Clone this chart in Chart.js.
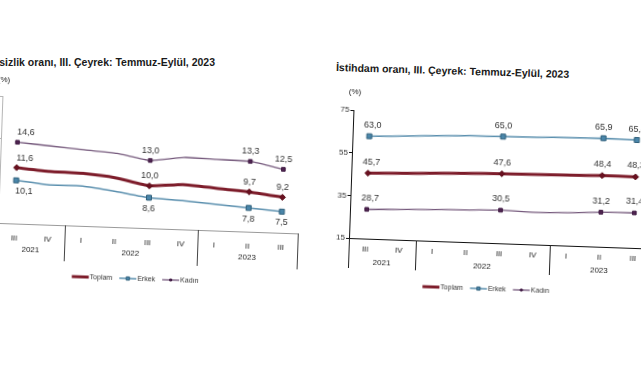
<!DOCTYPE html>
<html>
<head>
<meta charset="utf-8">
<script src="https://cdn.jsdelivr.net/npm/chart.js@4/dist/chart.umd.min.js"></script>
<style>
body { margin: 0; background: #fff; }
#page { position: relative; width: 641px; height: 380px; overflow: hidden; background: #fff; font-family: "Liberation Sans", Arial, sans-serif; }
.title { position: absolute; white-space: nowrap; font-size: 10.5px; font-weight: bold; color: #1a1a1a; }
canvas { position: absolute; }
</style>
</head>
<body>
<div id="page">
  <div class="title" id="t1" style="right:426px; top:56px;">İşsizlik oranı, III. Çeyrek: Temmuz-Eylül, 2023</div>
  <div class="title" id="t2" style="left:336px; top:61px; transform:rotate(1.7deg); transform-origin:0 50%;">İstihdam oranı, III. Çeyrek: Temmuz-Eylül, 2023</div>
  <canvas id="issizlik" width="360" height="230" style="left:-40px; top:70px; transform:rotate(2deg); transform-origin:40px 153px;"></canvas>
  <canvas id="istihdam" width="370" height="230" style="left:300px; top:80px; transform:rotate(2deg); transform-origin:49px 158px;"></canvas>
</div>
<script>
// quarters shown on the x axis, grouped by year
const quarters = ['III', 'IV', 'I', 'II', 'III', 'IV', 'I', 'II', 'III'];
const yearLabels = ['2021', '2022', '2023'];
const yearSpans = [2, 4, 3];
// quarters that carry a marker and a value label
const markedIdx = [0, 4, 7, 8];

// unemployment rate (%)
const issizToplam = [11.6, 11.3, 11.2, 10.8, 10.0, 10.3, 10.0, 9.7, 9.2];
const issizErkek = [10.1, 9.7, 9.7, 9.2, 8.6, 8.4, 8.1, 7.8, 7.5];
const issizKadin = [14.6, 14.3, 14.0, 13.7, 13.0, 13.5, 13.4, 13.3, 12.5];

// employment rate (%)
const istihdamToplam = [45.7, 46.2, 46.7, 47.2, 47.6, 47.8, 48.0, 48.4, 48.3];
const istihdamErkek = [63.0, 63.6, 64.3, 64.9, 65.0, 65.3, 65.6, 65.9, 65.6];
const istihdamKadin = [28.7, 29.2, 29.7, 30.1, 30.5, 30.1, 30.4, 31.2, 31.4];
const istihdamTicks = [15, 35, 55, 75];

const FONT = '"Liberation Sans", Arial, sans-serif';

function fmt(v) {
    return v.toFixed(1).replace('.', ',');
}

function marker(ctx, style, x, y, r, fill, stroke) {
    ctx.fillStyle = fill;
    ctx.strokeStyle = stroke;
    ctx.lineWidth = 1;
    ctx.beginPath();
    if (style === 'rectRot') {
        ctx.moveTo(x, y - r); ctx.lineTo(x + r, y); ctx.lineTo(x, y + r); ctx.lineTo(x - r, y);
        ctx.closePath();
    } else {
        ctx.rect(x - r * 0.8, y - r * 0.8, r * 1.6, r * 1.6);
    }
    ctx.fill();
    ctx.stroke();
}

// two-row category table under the plot: year labels and separators
const tableAxis = {
    id: 'tableAxis',
    afterDraw(chart, args, o) {
        const ctx = chart.ctx, xs = chart.scales.x, area = chart.chartArea;
        ctx.save();
        ctx.lineWidth = 1;
        const bounds = [area.left];
        let i = 0;
        yearSpans.forEach(function(n) {
            i += n;
            bounds.push(i < quarters.length ? (xs.getPixelForValue(i - 1) + xs.getPixelForValue(i)) / 2 : area.right);
        });
        bounds.forEach(function(bx, k) {
            ctx.strokeStyle = k === 0 ? o.edgeColor : o.lineColor;
            ctx.beginPath();
            ctx.moveTo(Math.round(bx) + 0.5, area.bottom);
            ctx.lineTo(Math.round(bx) + 0.5, area.bottom + o.depth);
            ctx.stroke();
        });
        ctx.font = '8px ' + FONT;
        ctx.fillStyle = '#222';
        ctx.textAlign = 'center';
        ctx.textBaseline = 'middle';
        let s = 0;
        yearLabels.forEach(function(y, k) {
            const a = xs.getPixelForValue(s), b = xs.getPixelForValue(s + yearSpans[k] - 1);
            ctx.fillText(y, (a + b) / 2, area.bottom + o.yearOffset);
            s += yearSpans[k];
        });
        // unit label
        ctx.fillText('(%)', area.left + o.unitX, area.top - o.unitOffset);
        ctx.restore();
    }
};

// value labels at the marked quarters
const valueLabels = {
    id: 'valueLabels',
    afterDatasetsDraw(chart, args, o) {
        const ctx = chart.ctx;
        ctx.save();
        ctx.font = '9px ' + FONT;
        ctx.fillStyle = '#333';
        ctx.textAlign = 'center';
        ctx.textBaseline = 'middle';
        chart.data.datasets.forEach(function(ds, di) {
            const meta = chart.getDatasetMeta(di);
            markedIdx.forEach(function(idx) {
                const p = meta.data[idx];
                const dy = ds.labelBelow ? o.below : -o.above;
                const dx = idx === 0 ? o.firstShift : 0;
                ctx.fillText(fmt(ds.data[idx]), p.x + dx, p.y + dy);
            });
        });
        ctx.restore();
    }
};

// legend: line sample with marker, then text
const lineLegend = {
    id: 'lineLegend',
    afterDraw(chart, args, o) {
        const ctx = chart.ctx, area = chart.chartArea;
        ctx.save();
        ctx.font = '7px ' + FONT;
        ctx.textBaseline = 'middle';
        const sym = 17, gap = 1, itemGap = 7;
        const items = chart.data.datasets.map(function(ds) {
            return { ds: ds, w: sym + gap + ctx.measureText(ds.label).width };
        });
        const total = items.reduce(function(s, it) { return s + it.w; }, 0) + itemGap * (items.length - 1);
        let x = (area.left + area.right) / 2 + o.shift - total / 2;
        const y = area.bottom + o.gap;
        items.forEach(function(it) {
            const ds = it.ds;
            ctx.strokeStyle = ds.borderColor;
            ctx.lineWidth = ds.borderWidth;
            ctx.beginPath();
            ctx.moveTo(x, y);
            ctx.lineTo(x + sym, y);
            ctx.stroke();
            if (ds.legendMarker) {
                marker(ctx, ds.pointStyle, x + sym / 2, y, ds.legendMarker, ds.pointBackgroundColor, ds.pointBorderColor);
            }
            ctx.fillStyle = '#333';
            ctx.fillText(ds.label, x + sym + gap, y);
            x += it.w + itemGap;
        });
        ctx.restore();
    }
};

function radiusAt(r) {
    return function(c) { return markedIdx.includes(c.dataIndex) ? r : 0; };
}

function makeDatasets(toplam, erkek, kadin, erkekBelow) {
    return [
        {
            label: 'Toplam', data: toplam,
            borderColor: '#7d1c2a', borderWidth: 3,
            pointStyle: 'rectRot', pointRadius: radiusAt(3), pointHoverRadius: 0,
            pointBackgroundColor: '#6a1020', pointBorderColor: '#5a0c18', pointBorderWidth: 1,
            legendMarker: 0, labelBelow: false
        },
        {
            label: 'Erkek', data: erkek,
            borderColor: '#5a8fae', borderWidth: 1.5,
            pointStyle: 'rect', pointRadius: radiusAt(3.5), pointHoverRadius: 0,
            pointBackgroundColor: '#4a86aa', pointBorderColor: '#2f5f7a', pointBorderWidth: 1,
            legendMarker: 2, labelBelow: erkekBelow
        },
        {
            label: 'Kadın', data: kadin,
            borderColor: '#75597c', borderWidth: 1.3,
            pointStyle: 'rect', pointRadius: radiusAt(2.6), pointHoverRadius: 0,
            pointBackgroundColor: '#4e2350', pointBorderColor: '#3f1a42', pointBorderWidth: 1,
            legendMarker: 1.2, labelBelow: false
        }
    ];
}

function makeChart(id, cfg) {
    return new Chart(document.getElementById(id).getContext('2d'), {
        type: 'line',
        data: { labels: quarters, datasets: cfg.datasets },
        plugins: [tableAxis, valueLabels, lineLegend],
        options: {
            responsive: false,
            animation: false,
            devicePixelRatio: 1,
            layout: { padding: cfg.padding },
            elements: { line: { tension: 0.15 } },
            plugins: {
                legend: { display: false },
                tooltip: { enabled: false },
                tableAxis: cfg.table,
                valueLabels: cfg.labels,
                lineLegend: cfg.legend
            },
            scales: {
                x: {
                    offset: true,
                    grid: { display: false, drawTicks: false },
                    border: { display: true, color: cfg.xLine, width: 1 },
                    ticks: { autoSkip: false, maxRotation: 0, padding: cfg.tickPad, color: '#222', font: { family: FONT, size: 8 } },
                    afterFit: function(s) { s.height = 20; }
                },
                y: {
                    min: cfg.yMin, max: cfg.yMax,
                    grid: { display: true, drawOnChartArea: false, drawTicks: true, tickLength: 3, color: cfg.yLine },
                    border: { display: true, color: cfg.yLine, width: 1 },
                    ticks: cfg.yTicks,
                    afterFit: function(s) { s.width = cfg.yWidth; }
                }
            }
        }
    });
}

makeChart('issizlik', {
    datasets: makeDatasets(issizToplam, issizErkek, issizKadin, true),
    padding: { top: 26, right: 22, bottom: 57, left: 0 },
    yMin: 5, yMax: 20, yWidth: 38,
    yTicks: { stepSize: 5, padding: 2, color: '#333', font: { family: FONT, size: 8 } },
    xLine: '#9a9a9a', yLine: '#b5b5b5', tickPad: 10,
    table: { lineColor: '#444', edgeColor: '#b5b5b5', depth: 36, yearOffset: 26, unitOffset: 16, unitX: 1 },
    labels: { above: 10, below: 11, firstShift: 8 },
    legend: { gap: 51, shift: -11 }
});

makeChart('istihdam', {
    datasets: makeDatasets(istihdamToplam, istihdamErkek, istihdamKadin, false),
    padding: { top: 30, right: 20, bottom: 52, left: 0 },
    yMin: 15, yMax: 75, yWidth: 49,
    yTicks: {
        padding: 1, color: '#333', font: { family: FONT, size: 8 },
        callback: function(v) { return istihdamTicks.includes(v) ? v : null; },
        stepSize: 20
    },
    xLine: '#111', yLine: '#111', tickPad: 6,
    table: { lineColor: '#222', edgeColor: '#222', depth: 30, yearOffset: 24, unitOffset: 18, unitX: 1 },
    labels: { above: 11, below: 11, firstShift: 3 },
    legend: { gap: 46, shift: -12 }
});
</script>
</body>
</html>
